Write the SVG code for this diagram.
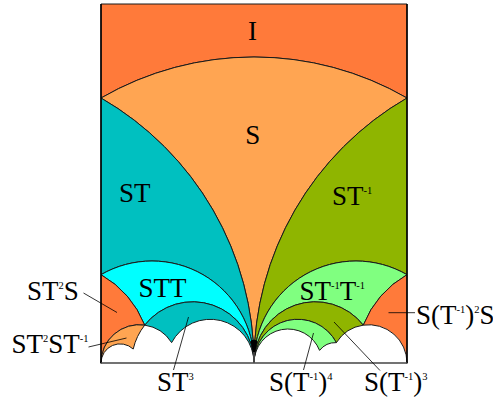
<svg xmlns="http://www.w3.org/2000/svg" width="493" height="400" viewBox="0 0 493 400">
<style>
.r{stroke:#1a1a1a;stroke-width:1;stroke-linejoin:round}
.ro{fill:#FF7A3A}.lo{fill:#FFA552}.te{fill:#00C0C0}.cy{fill:#00FFFF}.ol{fill:#8FB500}.lg{fill:#80FF80}
text{font-family:"Liberation Serif","Times New Roman",serif;font-size:27px;fill:#000}
.sp{font-size:10.5px}
.ld{stroke:#000;stroke-width:0.8;fill:none}
</style>
<rect x="0" y="0" width="493" height="400" fill="#fff"/>
<g id="node-I"><path class="r ro" d="M101,4 H407 V98 A306,306 0 0 0 101,98 Z"/><text x="252.5" y="39.5" text-anchor="middle">I</text></g>
<g id="node-S"><path class="r lo" d="M101,98 A306,306 0 0 1 407,98 A306,306 0 0 0 254,363 A306,306 0 0 0 101,98 Z"/><text x="252.7" y="144" text-anchor="middle">S</text></g>
<g id="node-ST"><path class="r te" d="M101,98 A306,306 0 0 1 254,363 A102,102 0 0 0 101,274.67 Z"/><text x="119" y="201.5" font-size="28">ST</text></g>
<g id="node-ST-1"><path class="r ol" d="M407,98 A306,306 0 0 0 254,363 A102,102 0 0 1 407,274.67 Z"/><text x="332" y="205">ST<tspan class="sp" dy="-11">-1</tspan></text></g>
<g id="node-STT"><path class="r cy" d="M101,274.67 A102,102 0 0 1 254,363 A61.2,61.2 0 0 0 144.71,325.14 A102,102 0 0 0 101,274.67 Z"/><text x="138.5" y="296.5" font-size="28">STT</text></g>
<g id="node-ST-1T-1"><path class="r lg" d="M407,274.67 A102,102 0 0 0 254,363 A61.2,61.2 0 0 1 363.29,325.14 A102,102 0 0 1 407,274.67 Z"/><text x="299.5" y="299.5">ST<tspan class="sp" dy="-11">-1</tspan><tspan dy="11">T</tspan><tspan class="sp" dy="-11">-1</tspan></text></g>
<g id="node-ST3"><path class="r te" d="M144.71,325.14 A61.2,61.2 0 0 1 254,363 A43.714,43.714 0 0 0 171.62,342.62 A38.25,38.25 0 0 0 144.71,325.14 Z"/><text x="157" y="391">ST<tspan class="sp" dy="-11">3</tspan></text></g>
<g id="node-ST-1_3"><path class="r ol" d="M363.29,325.14 A61.2,61.2 0 0 0 254,363 A43.714,43.714 0 0 1 336.38,342.62 A38.25,38.25 0 0 1 363.29,325.14 Z"/><text x="364" y="391">S(T<tspan class="sp" dy="-11">-1</tspan><tspan dy="11">)</tspan><tspan class="sp" dy="-11">3</tspan></text></g>
<g id="node-ST2S"><path class="r ro" d="M101,274.67 A102,102 0 0 1 144.71,325.14 A38.25,38.25 0 0 0 101,363 Z"/><text x="27" y="300">ST<tspan class="sp" dy="-11">2</tspan><tspan dy="11">S</tspan></text></g>
<g id="node-ST-1_2S"><path class="r ro" d="M407,274.67 A102,102 0 0 0 363.29,325.14 A38.25,38.25 0 0 1 407,363 Z"/><text x="416" y="323.5" font-size="25">S(T<tspan class="sp" dy="-11">-1</tspan><tspan dy="11">)</tspan><tspan class="sp" dy="-11">2</tspan><tspan dy="11">S</tspan></text></g>
<g id="node-ST2ST-1"><path class="r lo" d="M101,363 A38.25,38.25 0 0 1 144.71,325.14 A61.2,61.2 0 0 0 133.21,349.05 A19.125,19.125 0 0 0 101,363 Z"/><text x="11.5" y="353" font-size="26">ST<tspan class="sp" dy="-11">2</tspan><tspan dy="11">ST</tspan><tspan class="sp" dy="-11">-1</tspan></text></g>
<g id="node-ST-1_4"><path class="r lg" d="M336.38,342.62 A43.714,43.714 0 0 0 254,363 A34,34 0 0 1 319.57,350.38 A20.4,20.4 0 0 1 336.38,342.62 Z"/><text x="269" y="391">S(T<tspan class="sp" dy="-11">-1</tspan><tspan dy="11">)</tspan><tspan class="sp" dy="-11">4</tspan></text></g>
<g id="frame">
<line x1="101" y1="4" x2="101" y2="363.5" stroke="#000" stroke-width="1.5"/>
<line x1="407" y1="4" x2="407" y2="363.5" stroke="#000" stroke-width="1.5"/>
<line x1="101" y1="363" x2="407" y2="363" stroke="#444" stroke-width="1.5"/>
<path d="M250.5,341 Q254,338.5 257.5,341 L255,353 L254,356 L253,353 Z" fill="#000"/>
<line x1="254" y1="352" x2="254" y2="363" stroke="#555" stroke-width="1.5"/>
</g>
<g id="connectors">
<line class="ld" x1="83.5" y1="293" x2="117" y2="312.5"/>
<line class="ld" x1="88.5" y1="347" x2="126.5" y2="338"/>
<line class="ld" x1="173.5" y1="370" x2="188.5" y2="317"/>
<line class="ld" x1="303.5" y1="370" x2="313.5" y2="333"/>
<line class="ld" x1="334" y1="322" x2="380" y2="370.5"/>
<line class="ld" x1="388.5" y1="312.7" x2="415" y2="312.7"/>
</g>
</svg>
